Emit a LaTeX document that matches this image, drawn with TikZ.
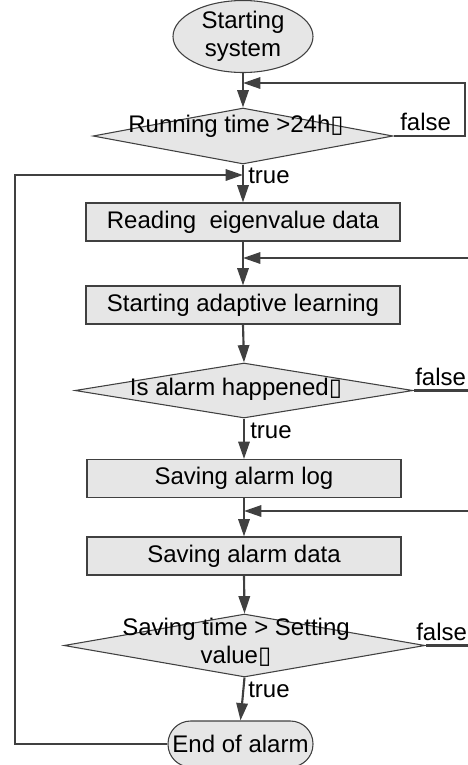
\documentclass[tikz,border=0pt]{standalone}
\usepackage{fontspec}
\setmainfont{Liberation Sans}
\newfontfamily\symfont{DejaVu Sans}
\usetikzlibrary{shapes.geometric,arrows.meta}
\newcommand{\tofu}{{\symfont\char"25AF}}
\definecolor{linegray}{HTML}{404040}
\definecolor{boxfill}{HTML}{E6E6E6}
\tikzset{
  every node/.style={font=\fontsize{18}{21}\selectfont, text=black, inner sep=0pt},
  procbox/.style={draw=linegray, line width=0.8pt, fill=boxfill, rectangle,
    minimum width=235.5pt, minimum height=28.5pt},
  decision/.style={draw=linegray, line width=0.8pt, fill=boxfill, diamond},
  terminal/.style={draw=linegray, line width=0.8pt, fill=boxfill},
  flow/.style={draw=linegray, line width=1.6pt,
    -{Triangle[length=13pt,width=8.5pt]}},
  plain/.style={draw=linegray, line width=1.6pt},
  tag/.style={font=\fontsize{18}{21}\selectfont},
}
\begin{document}
\begin{tikzpicture}[x=0.75pt,y=-0.75pt]
\useasboundingbox (0,0) rectangle (468,765);

% start / end terminals
\node[terminal, ellipse, minimum width=105pt, minimum height=54pt] (start) at (243,36.5) {};
\node (starttext) at (243,37) {\begin{tabular}{@{}c@{}}Starting\\[0pt] system\end{tabular}};
\node[terminal, rectangle, rounded corners=17pt, minimum width=108.75pt, minimum height=34.5pt] (end) at (240.5,744) {End of alarm};

% decisions
\node[decision, minimum width=225pt, minimum height=42pt] (d1) at (243,136) {};
\node (d1text) at (236,126) {Running time >24h\tofu};
\node[decision, minimum width=253.5pt, minimum height=41.25pt] (d2) at (244,390.5) {};
\node (d2text) at (236,389) {Is alarm happened\tofu};
\node[decision, minimum width=270.75pt, minimum height=47.25pt] (d3) at (244.5,645.5) {};
\node (d3text) at (236,644) {\begin{tabular}{@{}c@{}}Saving time > Setting\\[0pt] value\tofu\end{tabular}};

% process steps
\node[procbox] (b1) at (243,222) {Reading\ \ eigenvalue data};
\node[procbox] (b2) at (243,305) {Starting adaptive learning};
\node[procbox] (b3) at (244,478.5) {Saving alarm log};
\node[procbox] (b4) at (244,556) {Saving alarm data};

% junction points on the main axis and off-page ends
\coordinate (j1) at (243,83);
\coordinate (j0) at (243,175);
\coordinate (j2) at (243,258);
\coordinate (j3) at (244,511);
\coordinate (r1) at (465,83);
\coordinate (r2) at (470,258);
\coordinate (r3) at (470,511);
\coordinate (r4) at (470,390.5);
\coordinate (r5) at (470,645.5);
\coordinate (l1) at (15,744);
\coordinate (l2) at (15,175);

% main flow
\draw[flow] (start.south) -- (d1.north);
\draw[flow] (d1.south) -- (b1.north);
\draw[flow] (b1.south) -- (b2.north);
\draw[flow] (b2.south) -- (d2.north);
\draw[flow] (d2.south) -- (b3.north);
\draw[flow] (b3.south) -- (b4.north);
\draw[flow] (b4.south) -- (d3.north);
\draw[flow] (d3.south) -- (end.north);

% loops
\draw[flow] (d1.east) -| (r1) -- (j1);
\draw[flow] (end.west) -- (l1) -- (l2) -- (j0);
\draw[flow] (r2) -- (j2);
\draw[flow] (r3) -- (j3);
\draw[plain] (d2.east) -- (r4);
\draw[plain] (d3.east) -- (r5);

% branch labels
\node[tag, anchor=west] (f1) at (400,122) {false};
\node[tag, anchor=west] (t1) at (248,176) {true};
\node[tag, anchor=west] (f2) at (415,377) {false};
\node[tag, anchor=west] (t2) at (250,431) {true};
\node[tag, anchor=west] (f3) at (416,632) {false};
\node[tag, anchor=west] (t3) at (248,690) {true};
\end{tikzpicture}
\end{document}
